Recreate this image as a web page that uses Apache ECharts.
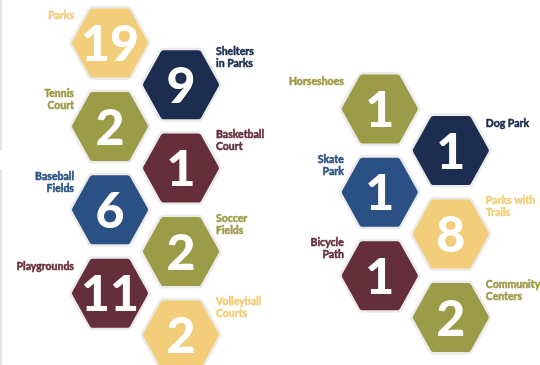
<!DOCTYPE html>
<html>
<head>
<meta charset="utf-8">
<script src="https://cdn.jsdelivr.net/npm/echarts@6/dist/echarts.min.js"></script>
<style>
  html, body { margin: 0; padding: 0; background: #fff; }
  #main { width: 540px; height: 365px; }
</style>
</head>
<body>
<div id="main"></div>
<script>
// facilities - left block
const leftCategories = ['Parks', 'Shelters\nin Parks', 'Tennis\nCourt', 'Basketball\nCourt',
  'Baseball\nFields', 'Soccer\nFields', 'Playgrounds', 'Volleyball\nCourts'];
const leftValues = [19, 9, 2, 1, 6, 2, 11, 2];

// facilities - right block
const rightCategories = ['Horseshoes', 'Dog Park', 'Skate\nPark', 'Parks with\nTrails',
  'Bicycle\nPath', 'Community\nCenters'];
const rightValues = [1, 1, 1, 8, 1, 2];

// palette
const YELLOW = '#f2cd7a', NAVY = '#1c2d50', OLIVE = '#9c9b47', MAROON = '#642e3b', BLUE = '#2b5184';
const leftColors = [YELLOW, NAVY, OLIVE, MAROON, BLUE, OLIVE, MAROON, YELLOW];
const rightColors = [OLIVE, NAVY, BLUE, YELLOW, MAROON, OLIVE];

// honeycomb slots: column alternates, row steps down by one
function buildData(cats, vals, colors, xOff, yOff) {
  return vals.map(function (v, i) {
    return {
      name: cats[i],
      value: [xOff + (i % 2), yOff + i, v, i % 2],
      itemStyle: { color: colors[i] }
    };
  });
}
const data = buildData(leftCategories, leftValues, leftColors, 0, 0)
  .concat(buildData(rightCategories, rightValues, rightColors, 3.80, 1.58));

function hexPoints(cx, cy, rx, ry) {
  return [[cx - rx, cy], [cx - rx / 2, cy - ry], [cx + rx / 2, cy - ry],
          [cx + rx, cy], [cx + rx / 2, cy + ry], [cx - rx / 2, cy + ry]];
}

function renderHex(params, api) {
  const c = api.coord([api.value(0), api.value(1)]);
  const color = api.visual('color');
  const side = api.value(3);
  const pts = hexPoints(c[0], c[1], 35, 31.5);
  const name = data[params.dataIndex].name;
  return {
    type: 'group',
    children: [
      { type: 'polygon', shape: { points: pts },
        style: { fill: '#ebebeb', stroke: '#ebebeb', lineWidth: 11, lineJoin: 'round' } },
      { type: 'polygon', shape: { points: pts },
        style: { fill: color, stroke: color, lineWidth: 6, lineJoin: 'round' } },
      { type: 'text',
        style: { text: String(api.value(2)), x: c[0], y: c[1] + 2, fill: '#fff',
          font: '900 50px Lato', align: 'center', verticalAlign: 'middle' } },
      { type: 'text',
        style: { text: name, x: side ? c[0] + 35 : c[0] - 36, y: c[1] - 27, fill: color,
          stroke: color, lineWidth: 0.5,
          font: 'bold 10.5px Lato', lineHeight: 12,
          align: side ? 'left' : 'right', verticalAlign: 'middle' } }
    ]
  };
}

const chart = echarts.init(document.getElementById('main'), null, { renderer: 'canvas' });
chart.setOption({
  animation: false,
  grid: { left: 0, right: 0, top: 0, bottom: 0 },
  xAxis: { type: 'value', min: -1.549, max: 6.056, show: false },
  yAxis: { type: 'value', min: -1.031, max: 7.722, inverse: true, show: false },
  graphic: [
    { type: 'rect', shape: { x: 0, y: 0, width: 2, height: 150 }, style: { fill: '#e3e3e3' } },
    { type: 'rect', shape: { x: 0, y: 170, width: 2, height: 195 }, style: { fill: '#e3e3e3' } }
  ],
  series: [{
    type: 'custom',
    renderItem: renderHex,
    data: data
  }]
});
</script>
</body>
</html>
